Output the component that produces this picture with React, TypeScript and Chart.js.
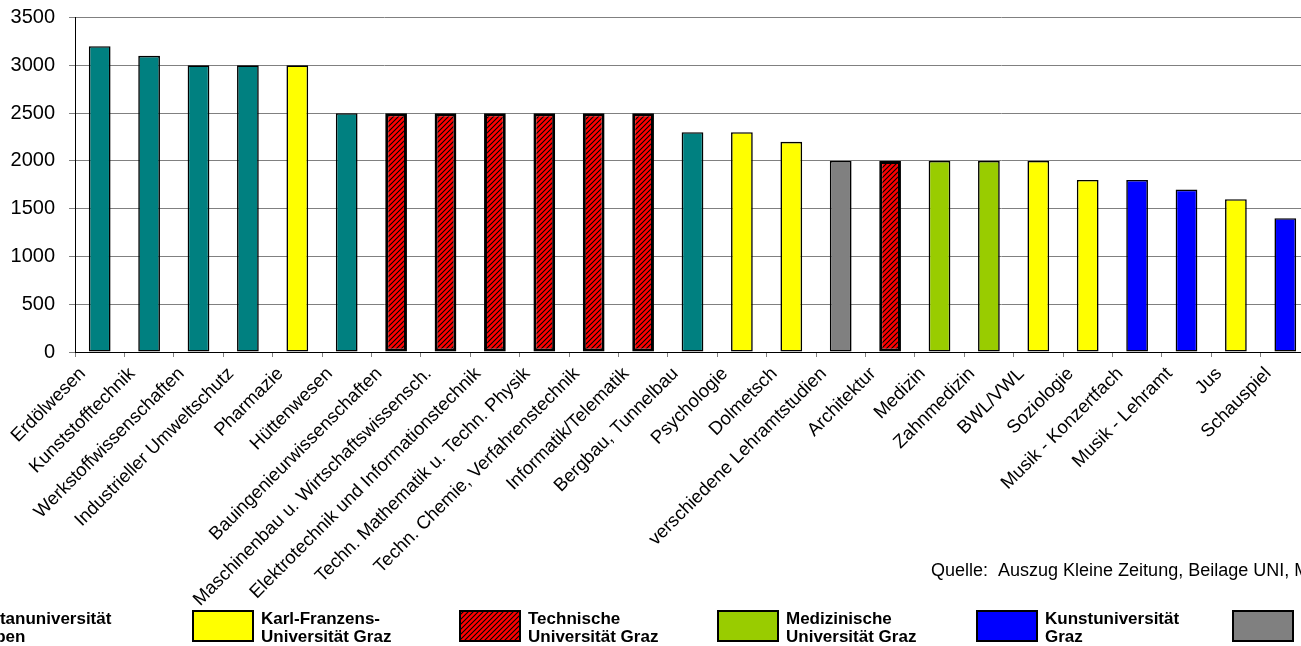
import { useEffect, useRef } from "react";
import { Chart, registerables } from "chart.js";

Chart.register(...registerables);

// Studienrichtungen (x-axis categories)
const fields = [
  "Erdölwesen",
  "Kunststofftechnik",
  "Werkstoffwissenschaften",
  "Industrieller Umweltschutz",
  "Pharmazie",
  "Hüttenwesen",
  "Bauingenieurwissenschaften",
  "Maschinenbau u. Wirtschaftswissensch.",
  "Elektrotechnik und Informationstechnik",
  "Techn. Mathematik u. Techn. Physik",
  "Techn. Chemie, Verfahrenstechnik",
  "Informatik/Telematik",
  "Bergbau, Tunnelbau",
  "Psychologie",
  "Dolmetsch",
  "verschiedene Lehramtstudien",
  "Architektur",
  "Medizin",
  "Zahnmedizin",
  "BWL/VWL",
  "Soziologie",
  "Musik - Konzertfach",
  "Musik - Lehramt",
  "Jus",
  "Schauspiel",
];

// Einstiegsgehalt je Studienrichtung
const salaries = [
  3200, 3100, 3000, 3000, 3000, 2500, 2500, 2500, 2500, 2500, 2500, 2500, 2300,
  2300, 2200, 2000, 2000, 2000, 2000, 2000, 1800, 1800, 1700, 1600, 1400,
];

// Universität je Studienrichtung
const universityOf = [
  "mu", "mu", "mu", "mu", "kfu", "mu", "tu", "tu", "tu", "tu", "tu", "tu", "mu",
  "kfu", "kfu", "pa", "tu", "med", "med", "kfu", "kfu", "kug", "kug", "kfu", "kug",
];

// Legendeneinträge
const legendKeys = ["mu", "kfu", "tu", "med", "kug", "pa"];
const legendLabels = [
  ["Montanuniversität", "Leoben"],
  ["Karl-Franzens-", "Universität Graz"],
  ["Technische", "Universität Graz"],
  ["Medizinische", "Universität Graz"],
  ["Kunstuniversität", "Graz"],
  ["Pädagogische", "Akademien"],
];

const sourceNote = "Quelle:  Auszug Kleine Zeitung, Beilage UNI, März 2005";

const yTicks = [0, 500, 1000, 1500, 2000, 2500, 3000, 3500];

const baseColors: Record<string, string> = {
  mu: "#008080",
  kfu: "#FFFF00",
  tu: "#FF0000",
  med: "#99CC00",
  kug: "#0000FF",
  pa: "#808080",
};

const FONT = '"Liberation Sans", Arial, sans-serif';

function makeHatch(ctx: CanvasRenderingContext2D): CanvasPattern | string {
  const tile = document.createElement("canvas");
  tile.width = 5;
  tile.height = 5;
  const t = tile.getContext("2d");
  if (!t) return baseColors.tu;
  t.fillStyle = "#FF0000";
  t.fillRect(0, 0, 5, 5);
  t.strokeStyle = "#000";
  t.lineWidth = 1.1;
  t.beginPath();
  t.moveTo(-1, 6);
  t.lineTo(6, -1);
  t.moveTo(-1, 1);
  t.lineTo(1, -1);
  t.moveTo(4, 6);
  t.lineTo(6, 4);
  t.stroke();
  return ctx.createPattern(tile, "repeat") || baseColors.tu;
}

export default function App() {
  const canvasRef = useRef<HTMLCanvasElement | null>(null);

  useEffect(() => {
    const canvas = canvasRef.current;
    if (!canvas) return;
    const ctx = canvas.getContext("2d");
    if (!ctx) return;
    const hatch = makeHatch(ctx);
    const fillFor = (key: string) => (key === "tu" ? hatch : baseColors[key]);

    const legendX = [-103, 193, 460, 718, 977, 1233];

    const legendPlugin = {
      id: "uniLegend",
      afterDraw(chart: Chart) {
        const c = chart.ctx as any;
        c.save();
        c.fillStyle = "#000";
        c.textAlign = "left";
        c.textBaseline = "alphabetic";
        c.font = `18px ${FONT}`;
        c.fillText(sourceNote, 931, 576);

        legendKeys.forEach((key, i) => {
          const x = legendX[i];
          c.fillStyle = fillFor(key);
          c.fillRect(x, 611, 60, 30);
          c.lineWidth = 2;
          c.strokeStyle = "#000";
          c.strokeRect(x, 611, 60, 30);
          c.fillStyle = "#000";
          c.font = `bold 17px ${FONT}`;
          legendLabels[i].forEach((line, j) => {
            c.fillText(line, x + 68, 624 + j * 18);
          });
        });
        c.restore();
      },
    };

    const chart = new Chart(ctx, {
      type: "bar",
      data: {
        labels: fields,
        datasets: [
          {
            data: salaries,
            backgroundColor: universityOf.map((k) => fillFor(k)) as any,
            borderColor: "#000",
            borderWidth: universityOf.map((k) => (k === "tu" ? 3 : 1.6)),
            borderSkipped: false,
            barPercentage: 1,
            categoryPercentage: 0.44,
          },
        ],
      },
      options: {
        animation: false,
        responsive: false,
        devicePixelRatio: 1,
        layout: { padding: { top: 17.6, left: 0, right: 0, bottom: 0 } },
        plugins: {
          legend: { display: false },
          tooltip: { enabled: false },
        },
        scales: {
          x: {
            offset: true,
            grid: {
              offset: true,
              drawOnChartArea: false,
              drawTicks: true,
              tickLength: 5,
              color: "#808080",
            },
            border: { display: true, color: "#000", width: 1 },
            ticks: {
              autoSkip: false,
              minRotation: 45,
              maxRotation: 45,
              padding: 6,
              labelOffset: -17,
              color: "#000",
              font: { size: 18.5, family: FONT },
            },
            afterFit: (s: any) => {
              s.height = 646 - 352;
              s.paddingLeft = 0;
              s.paddingRight = 0;
            },
          },
          y: {
            min: 0,
            max: 3500,
            afterBuildTicks: (s: any) => {
              s.ticks = yTicks.map((v) => ({ value: v }));
            },
            grid: {
              color: "#808080",
              drawTicks: true,
              tickLength: 6,
            },
            border: { display: true, color: "#000", width: 1 },
            ticks: {
              padding: 14,
              color: "#000",
              font: { size: 20, family: FONT },
              callback: (v: any) => String(v),
            },
            afterFit: (s: any) => {
              s.width = 75;
              s.paddingTop = 0;
              s.paddingBottom = 0;
            },
          },
        },
      },
      plugins: [legendPlugin],
    });

    return () => chart.destroy();
  }, []);

  return (
    <div
      style={{
        position: "absolute",
        left: 0,
        top: 0,
        width: 1301,
        height: 646,
        overflow: "hidden",
        background: "#fff",
      }}
    >
      <canvas
        ref={canvasRef}
        width={1310}
        height={646}
        style={{ display: "block", width: 1310, height: 646 }}
      />
    </div>
  );
}
